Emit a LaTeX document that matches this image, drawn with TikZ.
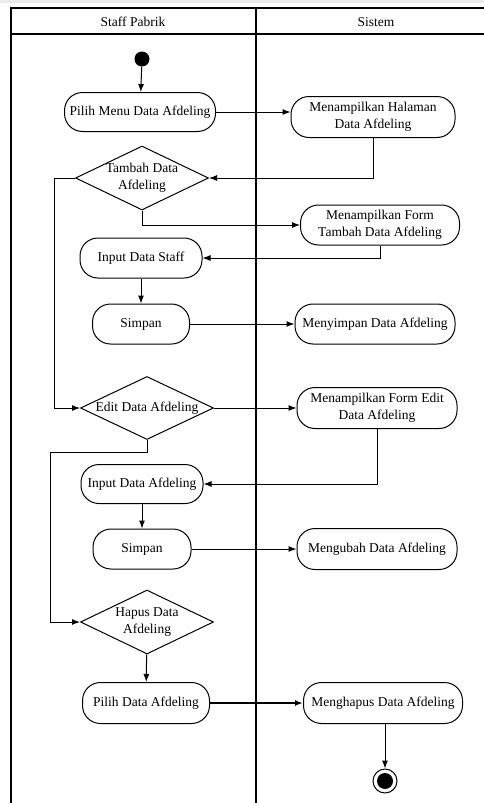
\documentclass[tikz,border=0pt]{standalone}
\usepackage{fontspec}
\setmainfont{Liberation Serif}
\usetikzlibrary{arrows.meta,shapes.geometric}
\tikzset{
  act/.style={draw, rectangle, rounded corners=18pt, line width=1pt, align=center, inner sep=1pt, minimum height=40pt},
  dec/.style={draw, diamond, line width=1pt, inner sep=0pt, minimum width=133pt, minimum height=64pt},
  arr/.style={draw, line width=1pt, -{Latex[length=8pt,width=6pt]}},
  lane/.style={line width=1.4pt},
}
\begin{document}
\begin{tikzpicture}[x=1pt,y=-1pt,font=\fontsize{13.5}{17.5}\selectfont]
\useasboundingbox (0,0) rectangle (484,803);
\fill[black!8] (0,0) rectangle (484,3);
% swimlanes
\draw[lane] (11,803) -- (11,8) -- (484,8);
\draw[lane] (11,34) -- (484,34);
\draw[lane] (256,8) -- (256,803);
\node (h1) at (133,22) {Staff Pabrik};
\node (h2) at (376,22) {Sistem};
% nodes
\node[circle, fill=black, minimum size=15pt, inner sep=0pt] (start) at (142,59) {};
\node[act, minimum width=151pt, minimum height=39pt] (pm) at (140,112) {Pilih Menu Data Afdeling};
\node[act, minimum width=164pt, minimum height=41pt] (mh) at (373,117) {Menampilkan Halaman\\Data Afdeling};
\node[dec, label={[align=center]center:Tambah Data\\Afdeling}] (tb) at (142,178) {};
\node[act, minimum width=159pt] (mft) at (380,225) {Menampilkan Form\\Tambah Data Afdeling};
\node[act, minimum width=122pt] (ids) at (141,258) {Input Data Staff};
\node[act, minimum width=97pt] (s1) at (141,324) {Simpan};
\node[act, minimum width=160pt] (md) at (375,324) {Menyimpan Data Afdeling};
\node[dec, minimum height=63pt, label={[align=center]center:Edit Data Afdeling}] (ed) at (147,408) {};
\node[act, minimum width=160pt, minimum height=41pt] (mfe) at (377,408) {Menampilkan Form Edit\\Data Afdeling};
\node[act, minimum width=122pt, minimum height=39pt] (ida) at (142,484) {Input Data Afdeling};
\node[act, minimum width=98pt] (s2) at (142,549) {Simpan};
\node[act, minimum width=160pt, minimum height=41pt] (mu) at (377,549) {Mengubah Data Afdeling};
\node[dec, label={[align=center]center:Hapus Data\\Afdeling}] (hp) at (147,622) {};
\node[act, minimum width=127pt, minimum height=41pt] (pda) at (146,703) {Pilih Data Afdeling};
\node[act, minimum width=159pt, minimum height=41pt] (mhp) at (383,703) {Menghapus Data Afdeling};
\node[circle, draw, line width=1pt, minimum size=24pt, inner sep=0pt] (end) at (385,781) {};
\fill (end.center) circle (8pt);
% connectors
\draw[arr] (start) -- (pm);
\draw[arr] (pm.east) -- (pm.east -| mh.west);
\draw[arr] (mh.south) |- (tb.east);
\draw[arr] (tb.west) -- ++(-21,0) |- (ed.west);
\draw[arr] (tb.south) |- (mft.west);
\draw[arr] (mft.south) |- (ids.east);
\draw[arr] (ids) -- (s1);
\draw[arr] (s1) -- (md);
\draw[arr] (ed.east) -- (mfe.west);
\draw[arr] (ed.south) -- ++(0,12) -- ++(-97,0) |- (hp.west);
\draw[arr] (mfe.south) |- (ida.east);
\draw[arr] (ida) -- (s2);
\draw[arr] (s2) -- (mu);
\draw[arr] (hp) -- (pda);
\draw[arr, line width=1.6pt] (pda) -- (mhp);
\draw[arr] (mhp.south -| end.north) -- (end.north);
\end{tikzpicture}
\end{document}
